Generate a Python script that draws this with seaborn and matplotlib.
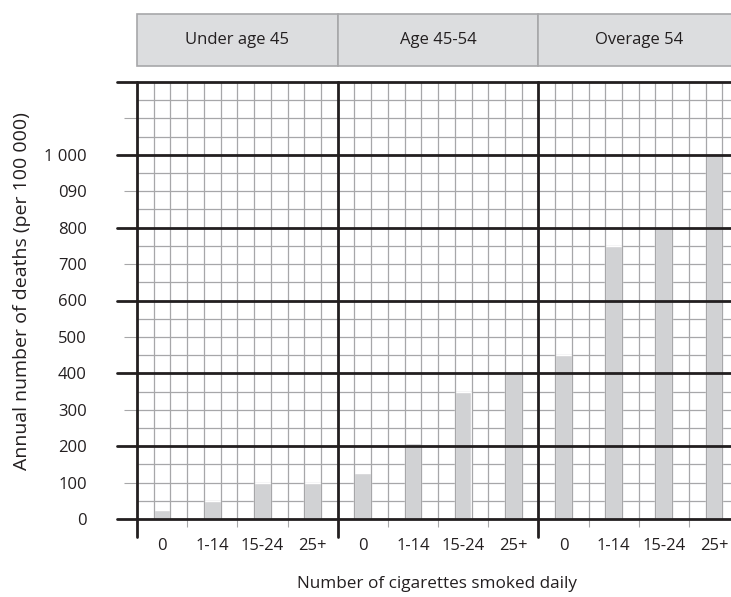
import matplotlib
matplotlib.use("Agg")
import matplotlib.pyplot as plt
from matplotlib.patches import Rectangle
import numpy as np
import pandas as pd
import seaborn as sns

## Data
age_groups = ["Under age 45", "Age 45-54", "Overage 54"]
cigarettes = ["0", "1-14", "15-24", "25+"]
deaths_under45 = [25, 50, 100, 100]
deaths_45_54 = [125, 210, 350, 400]
deaths_over54 = [450, 750, 800, 1000]
y_ticks = list(range(0, 1300, 100))
y_ticklabels = ["0", "100", "200", "300", "400", "500", "600", "700", "800",
                "090", "1 000", "", ""]

df = pd.DataFrame({
    "age": np.repeat(age_groups, len(cigarettes)),
    "cig": cigarettes * len(age_groups),
    "deaths": deaths_under45 + deaths_45_54 + deaths_over54,
})

sns.set_style("white")
plt.rcParams["font.family"] = ["Open Sans", "DejaVu Sans"]

INK = "#231f20"
GRID = "#a7a7a9"
BAR = "#d1d2d4"
W, H = 731, 597

fig, axes = plt.subplots(1, 3, figsize=(W / 100, H / 100), dpi=100, sharey=True)

left0, pw = 137 / W, 200.7 / W
bottom, ph = 78 / H, 437 / H
px_x = 1 / 200.7   # one pixel in axes fraction (x)
px_y = 1 / 437     # one pixel in axes fraction (y)

for i, (ax, grp) in enumerate(zip(axes, age_groups)):
    ax.set_position([left0 + i * pw, bottom, pw, ph])
    sub = df[df["age"] == grp]
    sns.barplot(data=sub, x="cig", y="deaths", order=cigarettes, color=BAR,
                saturation=1, width=1 / 3, ax=ax, zorder=1)
    ax.set_xlim(-0.5, 3.5)
    ax.set_ylim(0, 1200)
    ax.set_xlabel("")
    ax.set_ylabel("")
    for s in ax.spines.values():
        s.set_visible(False)

    # thin grid
    for v in np.arange(0, 1201, 50):
        ax.axhline(v, color=GRID, lw=0.9, zorder=0.5)
    for k in range(13):
        ax.axvline(-0.5 + k / 3, color=GRID, lw=0.9, zorder=1.5)

    # thick grid
    for v in range(0, 1201, 200):
        ax.axhline(v, xmin=-20 * px_x if i == 0 else 0, xmax=1, color=INK,
                   lw=2.0, zorder=3, clip_on=False)
    ax.axvline(-0.5, ymin=-18 * px_y, ymax=1, color=INK, lw=2.0, zorder=3,
               clip_on=False)

    # x ticks
    ax.set_xticks(range(len(cigarettes)))
    ax.set_xticklabels(cigarettes)
    ax.set_xticks([0.5, 1.5, 2.5], minor=True)
    ax.tick_params(axis="x", which="major", length=0, pad=14, labelsize=12,
                   labelcolor=INK)
    ax.tick_params(axis="x", which="minor", length=5.8, width=0.8, color=GRID,
                   bottom=True)

    # header box
    ax.add_patch(Rectangle((0, 1 + 16 * px_y), 1, 52 * px_y, transform=ax.transAxes,
                           facecolor="#dcdddf", edgecolor=GRID, lw=1.2,
                           clip_on=False, zorder=2))
    ax.text(0.5, 1 + 42 * px_y, grp, transform=ax.transAxes, ha="center",
            va="center", fontsize=12, color=INK)

axes[0].set_yticks(y_ticks)
axes[0].set_yticklabels(y_ticklabels)
axes[0].tick_params(axis="y", length=9.4, width=0.8, color=GRID, pad=26.6,
                    labelsize=12, labelcolor=INK, left=True)
for ax in axes[1:]:
    ax.tick_params(axis="y", left=False, labelleft=False)

fig.text(22 / W, (H - 291) / H, "Annual number of deaths (per 100 000)",
         rotation=90, ha="center", va="center", fontsize=14, color=INK)
fig.text(437 / W, (H - 584) / H, "Number of cigarettes smoked daily",
         ha="center", va="center", fontsize=12.3, color=INK)

fig.savefig("out.png", dpi=100)
